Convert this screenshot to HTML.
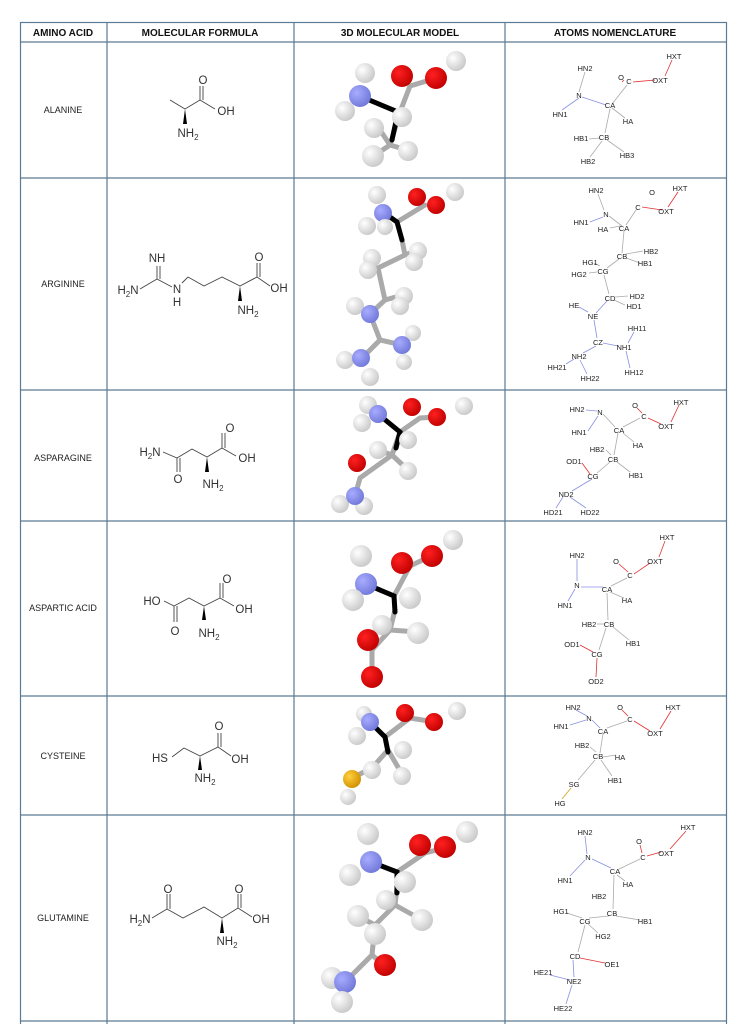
<!DOCTYPE html>
<html><head><meta charset="utf-8"><style>
html,body{margin:0;padding:0;background:#fff;width:745px;height:1024px;overflow:hidden}
svg{display:block}
.h{font:bold 10px "Liberation Sans",sans-serif;fill:#111;text-anchor:middle}
.n{font:9px "Liberation Sans",sans-serif;fill:#222;text-anchor:middle}
.f{font:11.5px "Liberation Sans",sans-serif;fill:#333;text-anchor:middle}
.a{font:7.5px "Liberation Sans",sans-serif;fill:#222;text-anchor:middle}
.b{stroke:#444;stroke-width:0.9;fill:none}
.k{stroke:#aaa;stroke-width:0.8}
.kb{stroke:#8890e0;stroke-width:0.8}
.kr{stroke:#e03030;stroke-width:0.8}
.g{stroke:#aaa;stroke-width:5;stroke-linecap:round;fill:none}
.bk{stroke:#000;stroke-width:5;stroke-linecap:round;fill:none}
</style></head><body>
<svg width="745" height="1024" viewBox="0 0 745 1024" xmlns="http://www.w3.org/2000/svg">
<defs>
<radialGradient id="w" cx="35%" cy="35%" r="70%"><stop offset="0" stop-color="#fff"/><stop offset="1" stop-color="#c8c8c8"/></radialGradient>
<radialGradient id="r" cx="35%" cy="35%" r="70%"><stop offset="0" stop-color="#ff2020"/><stop offset="1" stop-color="#c00000"/></radialGradient>
<radialGradient id="u" cx="35%" cy="35%" r="70%"><stop offset="0" stop-color="#a8acff"/><stop offset="1" stop-color="#7078d8"/></radialGradient>
<radialGradient id="y" cx="35%" cy="35%" r="70%"><stop offset="0" stop-color="#ffd040"/><stop offset="1" stop-color="#d09000"/></radialGradient>
</defs>
<g stroke="#5a7a95" stroke-width="1.2" fill="none">
<rect x="20.5" y="22.5" width="706" height="1010"/>
<line x1="107" y1="22" x2="107" y2="1024"/>
<line x1="294" y1="22" x2="294" y2="1024"/>
<line x1="505" y1="22" x2="505" y2="1024"/>
<line x1="20" y1="42" x2="727" y2="42"/>
<line x1="20" y1="178" x2="727" y2="178"/>
<line x1="20" y1="390" x2="727" y2="390"/>
<line x1="20" y1="521" x2="727" y2="521"/>
<line x1="20" y1="696" x2="727" y2="696"/>
<line x1="20" y1="815" x2="727" y2="815"/>
<line x1="20" y1="1021" x2="727" y2="1021"/>
</g>
<text class="h" x="63" y="36">AMINO ACID</text>
<text class="h" x="200" y="36">MOLECULAR FORMULA</text>
<text class="h" x="400" y="36">3D MOLECULAR MODEL</text>
<text class="h" x="615" y="36">ATOMS NOMENCLATURE</text>

<text class="n" x="63" y="113">ALANINE</text>
<text class="n" x="63" y="287">ARGININE</text>
<text class="n" x="63" y="461">ASPARAGINE</text>
<text class="n" x="63" y="611">ASPARTIC ACID</text>
<text class="n" x="63" y="759">CYSTEINE</text>
<text class="n" x="63" y="921">GLUTAMINE</text>

<!-- Alanine -->
<path class="b" d="M170 100 L185 109 L200 100 L215 109 M200 100 V86 M203 100 V86"/>
<path d="M185 109 L183 124 L187 124 Z" fill="#000"/>
<text class="f" x="203" y="84">O</text>
<text class="f" x="226" y="115">OH</text>
<text class="f" x="188" y="137">NH<tspan font-size="8" dy="3">2</tspan></text>
<!-- Arginine -->
<path class="b" d="M140 289 L157 279 L172 287 M182 283 L188 277 L204 286 L222 277 L240 286 L257 277 L270 286 M157 279 V266 M160 279 V266 M257 277 V263 M260 277 V263"/>
<path d="M240 286 L238 301 L242 301 Z" fill="#000"/>
<text class="f" x="157" y="262">NH</text>
<text class="f" x="128" y="294">H<tspan font-size="8" dy="3">2</tspan><tspan dy="-3">N</tspan></text>
<text class="f" x="177" y="293">N</text>
<text class="f" x="177" y="306">H</text>
<text class="f" x="259" y="261">O</text>
<text class="f" x="279" y="292">OH</text>
<text class="f" x="248" y="314">NH<tspan font-size="8" dy="3">2</tspan></text>
<!-- Asparagine -->
<path class="b" d="M163 452 L177 458 L192 449 L207 457 L222 448 L236 456 M177 458 V472 M180 458 V472 M222 448 V433 M225 448 V433"/>
<path d="M207 457 L205 472 L209 472 Z" fill="#000"/>
<text class="f" x="150" y="456">H<tspan font-size="8" dy="3">2</tspan><tspan dy="-3">N</tspan></text>
<text class="f" x="178" y="483">O</text>
<text class="f" x="230" y="432">O</text>
<text class="f" x="247" y="462">OH</text>
<text class="f" x="213" y="488">NH<tspan font-size="8" dy="3">2</tspan></text>
<!-- Aspartic acid -->
<path class="b" d="M164 601 L174 606 L189 598 L204 606 L220 598 L234 606 M174 606 V622 M177 606 V622 M220 598 V583 M223 598 V583"/>
<path d="M204 606 L202 620 L206 620 Z" fill="#000"/>
<text class="f" x="152" y="605">HO</text>
<text class="f" x="175" y="635">O</text>
<text class="f" x="227" y="583">O</text>
<text class="f" x="244" y="613">OH</text>
<text class="f" x="209" y="637">NH<tspan font-size="8" dy="3">2</tspan></text>
<!-- Cysteine -->
<path class="b" d="M172 757 L184 748 L200 756 L218 747 L231 756 M218 747 V733 M221 747 V733"/>
<path d="M200 756 L198 770 L202 770 Z" fill="#000"/>
<text class="f" x="160" y="762">HS</text>
<text class="f" x="219" y="730">O</text>
<text class="f" x="240" y="763">OH</text>
<text class="f" x="205" y="782">NH<tspan font-size="8" dy="3">2</tspan></text>
<!-- Glutamine -->
<path class="b" d="M152 918 L167 909 L183 918 L204 907 L222 918 L238 908 L252 917 M167 909 V894 M170 909 V894 M238 908 V894 M241 908 V894"/>
<path d="M222 918 L220 933 L224 933 Z" fill="#000"/>
<text class="f" x="140" y="923">H<tspan font-size="8" dy="3">2</tspan><tspan dy="-3">N</tspan></text>
<text class="f" x="168" y="893">O</text>
<text class="f" x="239" y="893">O</text>
<text class="f" x="261" y="923">OH</text>
<text class="f" x="227" y="945">NH<tspan font-size="8" dy="3">2</tspan></text>

<!-- 3D Alanine -->
<path class="g" d="M400 112 L410 86 L430 80 M400 112 L390 145 L372 157 M390 145 L407 150 M390 145 L380 130"/>
<path class="bk" d="M362 97 L398 112 L392 140"/>
<circle cx="365" cy="73" r="10" fill="url(#w)"/>
<circle cx="456" cy="61" r="10" fill="url(#w)"/>
<circle cx="360" cy="96" r="11" fill="url(#u)"/>
<circle cx="345" cy="111" r="10" fill="url(#w)"/>
<circle cx="402" cy="76" r="11" fill="url(#r)"/>
<circle cx="436" cy="78" r="11" fill="url(#r)"/>
<circle cx="402" cy="117" r="10" fill="url(#w)"/>
<circle cx="374" cy="128" r="10" fill="url(#w)"/>
<circle cx="373" cy="156" r="11" fill="url(#w)"/>
<circle cx="408" cy="151" r="10" fill="url(#w)"/>
<!-- 3D Arginine -->
<path class="g" d="M397 222 L425 205 M402 240 L405 255 L378 268 L385 300 L370 314 M405 255 L418 250 M378 268 L368 270 M385 300 L403 295 M370 314 L380 340 L402 345 M380 340 L360 360"/>
<path class="bk" d="M383 212 L397 222 L402 240"/>
<circle cx="377" cy="195" r="9" fill="url(#w)"/>
<circle cx="455" cy="192" r="9" fill="url(#w)"/>
<circle cx="417" cy="197" r="9" fill="url(#r)"/>
<circle cx="436" cy="205" r="9" fill="url(#r)"/>
<circle cx="383" cy="213" r="9" fill="url(#u)"/>
<circle cx="367" cy="226" r="9" fill="url(#w)"/>
<circle cx="385" cy="227" r="8" fill="url(#w)"/>
<circle cx="418" cy="251" r="9" fill="url(#w)"/>
<circle cx="414" cy="262" r="9" fill="url(#w)"/>
<circle cx="372" cy="258" r="9" fill="url(#w)"/>
<circle cx="368" cy="270" r="9" fill="url(#w)"/>
<circle cx="404" cy="296" r="9" fill="url(#w)"/>
<circle cx="400" cy="306" r="9" fill="url(#w)"/>
<circle cx="355" cy="306" r="9" fill="url(#w)"/>
<circle cx="370" cy="314" r="9" fill="url(#u)"/>
<circle cx="413" cy="333" r="8" fill="url(#w)"/>
<circle cx="402" cy="345" r="9" fill="url(#u)"/>
<circle cx="404" cy="362" r="8" fill="url(#w)"/>
<circle cx="345" cy="360" r="9" fill="url(#w)"/>
<circle cx="361" cy="358" r="9" fill="url(#u)"/>
<circle cx="370" cy="377" r="9" fill="url(#w)"/>
<!-- 3D Asparagine -->
<path class="g" d="M400 432 L420 418 L437 417 M400 432 L392 455 L360 478 L355 496 M392 455 L408 470 M392 455 L378 450"/>
<path class="bk" d="M378 414 L400 432 L396 448"/>
<circle cx="368" cy="405" r="9" fill="url(#w)"/>
<circle cx="464" cy="406" r="9" fill="url(#w)"/>
<circle cx="362" cy="423" r="9" fill="url(#w)"/>
<circle cx="378" cy="414" r="9" fill="url(#u)"/>
<circle cx="412" cy="407" r="9" fill="url(#r)"/>
<circle cx="437" cy="417" r="9" fill="url(#r)"/>
<circle cx="408" cy="440" r="9" fill="url(#w)"/>
<circle cx="378" cy="450" r="9" fill="url(#w)"/>
<circle cx="357" cy="463" r="9" fill="url(#r)"/>
<circle cx="408" cy="471" r="9" fill="url(#w)"/>
<circle cx="340" cy="504" r="9" fill="url(#w)"/>
<circle cx="364" cy="506" r="9" fill="url(#w)"/>
<circle cx="355" cy="496" r="9" fill="url(#u)"/>
<!-- 3D Aspartic acid -->
<path class="g" d="M394 596 L410 566 L431 556 M395 610 L390 630 L372 650 L372 677 M390 630 L418 632 M390 630 L382 624 M372 650 L367 638"/>
<path class="bk" d="M366 584 L394 596 L395 612"/>
<circle cx="361" cy="556" r="11" fill="url(#w)"/>
<circle cx="453" cy="540" r="10" fill="url(#w)"/>
<circle cx="402" cy="563" r="11" fill="url(#r)"/>
<circle cx="432" cy="556" r="11" fill="url(#r)"/>
<circle cx="366" cy="584" r="11" fill="url(#u)"/>
<circle cx="353" cy="600" r="11" fill="url(#w)"/>
<circle cx="410" cy="598" r="11" fill="url(#w)"/>
<circle cx="382" cy="625" r="10" fill="url(#w)"/>
<circle cx="418" cy="633" r="11" fill="url(#w)"/>
<circle cx="368" cy="640" r="11" fill="url(#r)"/>
<circle cx="372" cy="677" r="11" fill="url(#r)"/>
<!-- 3D Cysteine -->
<path class="g" d="M385 737 L410 718 L435 722 M388 750 L372 768 L352 778 M388 750 L402 774"/>
<path class="bk" d="M370 722 L385 737 L388 752"/>
<circle cx="364" cy="714" r="8" fill="url(#w)"/>
<circle cx="457" cy="711" r="9" fill="url(#w)"/>
<circle cx="357" cy="736" r="9" fill="url(#w)"/>
<circle cx="370" cy="722" r="9" fill="url(#u)"/>
<circle cx="405" cy="713" r="9" fill="url(#r)"/>
<circle cx="434" cy="722" r="9" fill="url(#r)"/>
<circle cx="403" cy="750" r="9" fill="url(#w)"/>
<circle cx="372" cy="770" r="9" fill="url(#w)"/>
<circle cx="402" cy="776" r="9" fill="url(#w)"/>
<circle cx="352" cy="779" r="9" fill="url(#y)"/>
<circle cx="348" cy="797" r="8" fill="url(#w)"/>
<!-- 3D Glutamine -->
<path class="g" d="M397 872 L425 853 L445 848 M397 888 L395 905 L375 925 L372 955 L345 982 M395 905 L422 920 M375 925 L358 916 M372 955 L384 965"/>
<path class="bk" d="M371 862 L397 872 L397 893"/>
<circle cx="368" cy="834" r="11" fill="url(#w)"/>
<circle cx="467" cy="832" r="11" fill="url(#w)"/>
<circle cx="371" cy="862" r="11" fill="url(#u)"/>
<circle cx="350" cy="875" r="11" fill="url(#w)"/>
<circle cx="420" cy="845" r="11" fill="url(#r)"/>
<circle cx="445" cy="847" r="11" fill="url(#r)"/>
<circle cx="405" cy="882" r="11" fill="url(#w)"/>
<circle cx="386" cy="900" r="10" fill="url(#w)"/>
<circle cx="358" cy="916" r="11" fill="url(#w)"/>
<circle cx="422" cy="920" r="11" fill="url(#w)"/>
<circle cx="375" cy="934" r="11" fill="url(#w)"/>
<circle cx="385" cy="965" r="11" fill="url(#r)"/>
<circle cx="332" cy="978" r="11" fill="url(#w)"/>
<circle cx="345" cy="982" r="11" fill="url(#u)"/>
<circle cx="342" cy="1002" r="11" fill="url(#w)"/>

<!-- Nomenclature Alanine -->
<g>
<line class="k" x1="585" y1="72" x2="579" y2="92"/><line class="kb" x1="579" y1="98" x2="562" y2="110"/>
<line class="kb" x1="582" y1="97" x2="606" y2="105"/><line class="k" x1="612" y1="104" x2="627" y2="85"/>
<line class="kr" x1="624" y1="80" x2="622" y2="82"/><line class="kr" x1="633" y1="82" x2="655" y2="80"/>
<line class="kr" x1="665" y1="76" x2="672" y2="60"/><line class="k" x1="612" y1="108" x2="625" y2="118"/>
<line class="k" x1="610" y1="109" x2="605" y2="133"/><line class="k" x1="600" y1="138" x2="589" y2="139"/>
<line class="k" x1="602" y1="141" x2="590" y2="157"/><line class="k" x1="607" y1="140" x2="624" y2="152"/>
<text class="a" x="585" y="71">HN2</text><text class="a" x="621" y="80">O</text><text class="a" x="674" y="59">HXT</text>
<text class="a" x="629" y="84">C</text><text class="a" x="660" y="83">OXT</text><text class="a" x="579" y="98">N</text>
<text class="a" x="560" y="117">HN1</text><text class="a" x="610" y="108">CA</text><text class="a" x="628" y="124">HA</text>
<text class="a" x="604" y="140">CB</text><text class="a" x="581" y="141">HB1</text><text class="a" x="588" y="164">HB2</text><text class="a" x="627" y="158">HB3</text>
</g>
<!-- Arginine -->
<g>
<line class="k" x1="598" y1="194" x2="604" y2="210"/><line class="kb" x1="603" y1="217" x2="590" y2="222"/>
<line class="k" x1="609" y1="216" x2="622" y2="226"/><line class="k" x1="626" y1="225" x2="636" y2="210"/>
<line class="kr" x1="642" y1="207" x2="662" y2="210"/><line class="kr" x1="668" y1="207" x2="678" y2="192"/>
<line class="k" x1="610" y1="228" x2="620" y2="226"/><line class="k" x1="624" y1="231" x2="622" y2="253"/>
<line class="k" x1="626" y1="254" x2="643" y2="251"/><line class="k" x1="626" y1="258" x2="640" y2="263"/>
<line class="k" x1="619" y1="259" x2="607" y2="268"/><line class="k" x1="600" y1="266" x2="594" y2="263"/>
<line class="k" x1="597" y1="272" x2="589" y2="273"/><line class="k" x1="604" y1="275" x2="609" y2="294"/>
<line class="k" x1="615" y1="297" x2="628" y2="296"/><line class="k" x1="614" y1="300" x2="625" y2="305"/>
<line class="kb" x1="607" y1="301" x2="596" y2="313"/><line class="kb" x1="588" y1="312" x2="579" y2="307"/>
<line class="kb" x1="594" y1="320" x2="597" y2="338"/><line class="kb" x1="603" y1="343" x2="618" y2="346"/>
<line class="kb" x1="628" y1="343" x2="634" y2="332"/><line class="kb" x1="626" y1="351" x2="630" y2="368"/>
<line class="kb" x1="596" y1="346" x2="583" y2="353"/><line class="kb" x1="574" y1="359" x2="566" y2="364"/>
<line class="kb" x1="580" y1="360" x2="587" y2="374"/>
<text class="a" x="596" y="193">HN2</text><text class="a" x="652" y="195">O</text><text class="a" x="680" y="191">HXT</text>
<text class="a" x="638" y="210">C</text><text class="a" x="666" y="214">OXT</text><text class="a" x="581" y="225">HN1</text>
<text class="a" x="606" y="217">N</text><text class="a" x="603" y="232">HA</text><text class="a" x="624" y="231">CA</text>
<text class="a" x="590" y="265">HG1</text><text class="a" x="622" y="259">CB</text><text class="a" x="651" y="254">HB2</text>
<text class="a" x="579" y="277">HG2</text><text class="a" x="603" y="274">CG</text><text class="a" x="645" y="266">HB1</text>
<text class="a" x="610" y="301">CD</text><text class="a" x="637" y="299">HD2</text><text class="a" x="574" y="308">HE</text>
<text class="a" x="634" y="309">HD1</text><text class="a" x="593" y="319">NE</text><text class="a" x="637" y="331">HH11</text>
<text class="a" x="598" y="345">CZ</text><text class="a" x="624" y="350">NH1</text><text class="a" x="579" y="359">NH2</text>
<text class="a" x="557" y="370">HH21</text><text class="a" x="590" y="381">HH22</text><text class="a" x="634" y="375">HH12</text>
</g>
<!-- Asparagine -->
<g>
<line class="kb" x1="586" y1="410" x2="597" y2="411"/><line class="kb" x1="588" y1="431" x2="598" y2="416"/>
<line class="k" x1="603" y1="414" x2="615" y2="427"/><line class="k" x1="623" y1="427" x2="640" y2="418"/>
<line class="kr" x1="637" y1="408" x2="642" y2="413"/><line class="kr" x1="648" y1="418" x2="661" y2="424"/>
<line class="kr" x1="671" y1="422" x2="679" y2="405"/><line class="k" x1="623" y1="433" x2="634" y2="442"/>
<line class="k" x1="618" y1="433" x2="614" y2="455"/><line class="k" x1="606" y1="450" x2="611" y2="455"/>
<line class="k" x1="617" y1="462" x2="630" y2="472"/><line class="k" x1="610" y1="462" x2="597" y2="473"/>
<line class="kr" x1="582" y1="463" x2="590" y2="474"/><line class="kb" x1="592" y1="479" x2="572" y2="491"/>
<line class="kb" x1="563" y1="497" x2="556" y2="508"/><line class="kb" x1="570" y1="497" x2="586" y2="508"/>
<text class="a" x="577" y="412">HN2</text><text class="a" x="600" y="415">N</text><text class="a" x="635" y="408">O</text>
<text class="a" x="681" y="405">HXT</text><text class="a" x="644" y="419">C</text><text class="a" x="666" y="429">OXT</text>
<text class="a" x="579" y="435">HN1</text><text class="a" x="619" y="433">CA</text><text class="a" x="597" y="452">HB2</text>
<text class="a" x="638" y="448">HA</text><text class="a" x="574" y="464">OD1</text><text class="a" x="613" y="462">CB</text>
<text class="a" x="636" y="478">HB1</text><text class="a" x="593" y="479">CG</text><text class="a" x="566" y="497">ND2</text>
<text class="a" x="553" y="515">HD21</text><text class="a" x="590" y="515">HD22</text>
</g>
<!-- Aspartic acid -->
<g>
<line class="kb" x1="577" y1="559" x2="577" y2="581"/><line class="kb" x1="575" y1="589" x2="568" y2="601"/>
<line class="kb" x1="581" y1="587" x2="603" y2="587"/><line class="k" x1="611" y1="586" x2="627" y2="578"/>
<line class="kr" x1="619" y1="564" x2="628" y2="572"/><line class="kr" x1="634" y1="574" x2="650" y2="563"/>
<line class="kr" x1="659" y1="557" x2="665" y2="541"/><line class="k" x1="610" y1="592" x2="624" y2="598"/>
<line class="k" x1="607" y1="593" x2="608" y2="620"/><line class="k" x1="597" y1="624" x2="604" y2="624"/>
<line class="k" x1="613" y1="627" x2="629" y2="640"/><line class="k" x1="606" y1="628" x2="599" y2="650"/>
<line class="kr" x1="580" y1="645" x2="593" y2="652"/><line class="kr" x1="597" y1="658" x2="596" y2="677"/>
<text class="a" x="667" y="540">HXT</text><text class="a" x="577" y="558">HN2</text><text class="a" x="616" y="564">O</text>
<text class="a" x="655" y="564">OXT</text><text class="a" x="577" y="588">N</text><text class="a" x="630" y="578">C</text>
<text class="a" x="607" y="592">CA</text><text class="a" x="565" y="608">HN1</text><text class="a" x="627" y="603">HA</text>
<text class="a" x="589" y="627">HB2</text><text class="a" x="609" y="627">CB</text><text class="a" x="572" y="647">OD1</text>
<text class="a" x="633" y="646">HB1</text><text class="a" x="597" y="657">CG</text><text class="a" x="596" y="684">OD2</text>
</g>
<!-- Cysteine -->
<g>
<line class="kb" x1="576" y1="710" x2="587" y2="716"/><line class="kb" x1="586" y1="720" x2="570" y2="725"/>
<line class="kb" x1="592" y1="720" x2="600" y2="728"/><line class="k" x1="607" y1="728" x2="627" y2="721"/>
<line class="kr" x1="622" y1="710" x2="628" y2="716"/><line class="kr" x1="634" y1="721" x2="650" y2="731"/>
<line class="kr" x1="660" y1="729" x2="671" y2="711"/><line class="k" x1="603" y1="734" x2="600" y2="753"/>
<line class="k" x1="590" y1="747" x2="596" y2="752"/><line class="k" x1="603" y1="757" x2="616" y2="755"/>
<line class="k" x1="601" y1="760" x2="612" y2="776"/><line class="k" x1="595" y1="760" x2="578" y2="780"/>
<line stroke="#d0a020" stroke-width="0.8" x1="571" y1="788" x2="562" y2="799"/>
<text class="a" x="573" y="710">HN2</text><text class="a" x="620" y="710">O</text><text class="a" x="673" y="710">HXT</text>
<text class="a" x="589" y="721">N</text><text class="a" x="561" y="729">HN1</text><text class="a" x="630" y="722">C</text>
<text class="a" x="603" y="734">CA</text><text class="a" x="655" y="736">OXT</text><text class="a" x="582" y="748">HB2</text>
<text class="a" x="598" y="759">CB</text><text class="a" x="620" y="760">HA</text><text class="a" x="574" y="787">SG</text>
<text class="a" x="615" y="783">HB1</text><text class="a" x="560" y="806">HG</text>
</g>
<!-- Glutamine -->
<g>
<line class="kb" x1="585" y1="836" x2="587" y2="854"/><line class="kb" x1="585" y1="860" x2="570" y2="876"/>
<line class="kb" x1="592" y1="859" x2="611" y2="868"/><line class="k" x1="619" y1="869" x2="640" y2="859"/>
<line class="kr" x1="640" y1="845" x2="642" y2="853"/><line class="kr" x1="647" y1="856" x2="661" y2="852"/>
<line class="kr" x1="670" y1="849" x2="686" y2="831"/><line class="k" x1="617" y1="875" x2="625" y2="881"/>
<line class="k" x1="614" y1="875" x2="613" y2="909"/><line class="k" x1="616" y1="916" x2="640" y2="920"/>
<line class="k" x1="609" y1="916" x2="589" y2="918"/><line class="k" x1="582" y1="918" x2="567" y2="913"/>
<line class="k" x1="588" y1="924" x2="598" y2="933"/><line class="k" x1="585" y1="925" x2="578" y2="952"/>
<line class="kr" x1="580" y1="958" x2="605" y2="963"/><line class="kb" x1="573" y1="960" x2="574" y2="977"/>
<line class="kb" x1="570" y1="980" x2="550" y2="975"/><line class="kb" x1="572" y1="985" x2="566" y2="1004"/>
<text class="a" x="585" y="835">HN2</text><text class="a" x="688" y="830">HXT</text><text class="a" x="639" y="844">O</text>
<text class="a" x="643" y="860">C</text><text class="a" x="666" y="856">OXT</text><text class="a" x="588" y="860">N</text>
<text class="a" x="615" y="874">CA</text><text class="a" x="565" y="883">HN1</text><text class="a" x="628" y="887">HA</text>
<text class="a" x="599" y="899">HB2</text><text class="a" x="561" y="914">HG1</text><text class="a" x="612" y="916">CB</text>
<text class="a" x="645" y="924">HB1</text><text class="a" x="585" y="924">CG</text><text class="a" x="603" y="939">HG2</text>
<text class="a" x="575" y="959">CD</text><text class="a" x="612" y="967">OE1</text><text class="a" x="543" y="975">HE21</text>
<text class="a" x="574" y="984">NE2</text><text class="a" x="563" y="1011">HE22</text>
</g>
</svg>
</body></html>
